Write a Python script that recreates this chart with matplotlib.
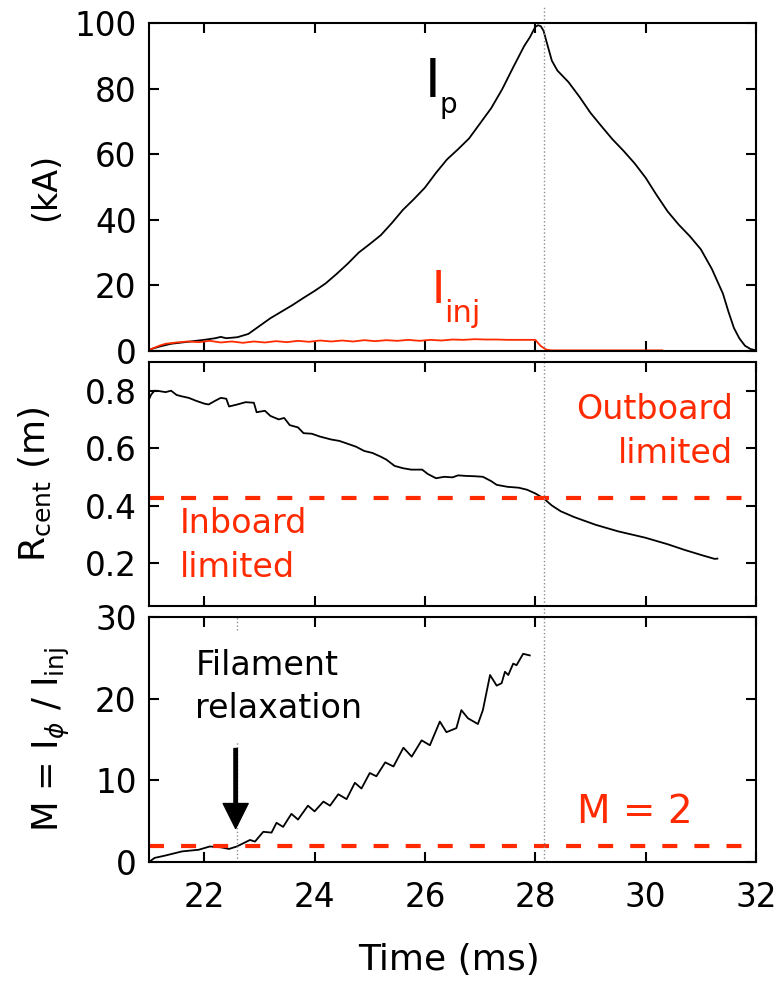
import matplotlib
matplotlib.use('Agg')
import matplotlib.pyplot as plt

RED = '#ff2a00'
GREY = '#8c8c8c'

# top panel: plasma current Ip and injector current Iinj (kA)
t_ip = [21.0, 21.2, 21.4, 21.6, 21.8, 22.0, 22.2, 22.3, 22.4, 22.6, 22.8, 23.0, 23.2, 23.4,
        23.6, 23.8, 24.0, 24.2, 24.4, 24.6, 24.8, 25.0, 25.2, 25.4, 25.6, 25.8, 26.0, 26.2,
        26.4, 26.6, 26.8, 27.0, 27.2, 27.4, 27.6, 27.8, 27.9, 28.0, 28.05, 28.1, 28.15, 28.2,
        28.3, 28.4, 28.6, 28.8, 29.0, 29.2, 29.4, 29.6, 29.8, 30.0, 30.2, 30.4, 30.6, 30.8,
        31.0, 31.2, 31.4, 31.5, 31.6, 31.7, 31.8, 31.9, 32.0]
ip = [0.4, 1.4, 2.2, 2.6, 3.0, 3.4, 3.9, 4.3, 3.9, 4.2, 5.2, 7.6, 10.0, 12.0,
      14.0, 16.2, 18.3, 20.6, 23.5, 26.6, 30.0, 32.6, 35.3, 39.0, 43.0, 46.3, 49.8, 54.3,
      58.4, 61.5, 64.8, 69.4, 74.0, 79.8, 86.5, 93.0, 95.6, 98.8, 99.3, 99.0, 97.6, 94.5,
      88.5, 85.5, 82.0, 77.5, 72.6, 68.5, 64.5, 61.0, 57.2, 52.8, 47.5, 42.5, 38.5, 35.0,
      31.0, 25.0, 17.5, 12.0, 7.0, 3.8, 1.6, 0.6, 0.2]

t_inj = [21.0, 21.1, 21.2, 21.3, 21.5, 21.7, 21.9, 22.1, 22.3, 22.5, 22.7, 22.9, 23.1, 23.3,
         23.5, 23.7, 23.9, 24.1, 24.3, 24.5, 24.7, 24.9, 25.1, 25.3, 25.5, 25.7, 25.9, 26.1,
         26.3, 26.5, 26.7, 26.9, 27.1, 27.3, 27.5, 27.7, 27.9, 28.0, 28.1, 28.2, 28.3, 29.0,
         29.5, 30.0, 30.3]
inj = [0.3, 1.0, 1.7, 2.2, 2.6, 2.9, 2.7, 3.1, 2.6, 2.9, 2.5, 2.9, 2.6, 3.0,
       2.7, 3.1, 2.8, 3.2, 2.9, 3.2, 2.9, 3.3, 3.0, 3.3, 3.1, 3.4, 3.1, 3.4,
       3.2, 3.5, 3.4, 3.6, 3.5, 3.5, 3.4, 3.4, 3.4, 3.4, 1.5, 0.4, 0.2, 0.2,
       0.2, 0.2, 0.2]

# middle panel: current centroid radius (m)
t_r = [21.0, 21.04, 21.1, 21.17, 21.3, 21.4, 21.5, 21.6, 21.72, 21.85, 22.0, 22.08, 22.2,
       22.3, 22.4, 22.45, 22.6, 22.75, 22.9, 22.95, 23.1, 23.2, 23.35, 23.45, 23.55, 23.7,
       23.8, 23.95, 24.1, 24.3, 24.45, 24.6, 24.75, 24.9, 25.05, 25.2, 25.3, 25.45, 25.6,
       25.75, 25.95, 26.05, 26.2, 26.35, 26.5, 26.6, 26.75, 26.9, 27.05, 27.2, 27.3, 27.5,
       27.7, 27.85, 28.0, 28.15, 28.3, 28.46, 28.7, 29.09, 29.5, 29.99, 30.4, 30.71, 31.0,
       31.25, 31.3]
r_cent = [0.77, 0.787, 0.80, 0.799, 0.795, 0.80, 0.785, 0.78, 0.775, 0.765, 0.755, 0.752, 0.765,
          0.775, 0.772, 0.745, 0.752, 0.76, 0.758, 0.725, 0.73, 0.712, 0.70, 0.705, 0.68, 0.672,
          0.652, 0.65, 0.64, 0.63, 0.625, 0.615, 0.605, 0.59, 0.583, 0.57, 0.56, 0.538, 0.53,
          0.525, 0.525, 0.51, 0.495, 0.50, 0.498, 0.505, 0.503, 0.502, 0.50, 0.485, 0.472, 0.465,
          0.462, 0.455, 0.442, 0.425, 0.40, 0.38, 0.36, 0.333, 0.31, 0.288, 0.265, 0.245, 0.228,
          0.214, 0.215]
r_limit = 0.425

# bottom panel: current multiplication M
t_m = [21.0, 21.1, 21.3, 21.6, 21.9, 22.1, 22.3, 22.45, 22.59, 22.83, 22.92, 23.07, 23.22,
       23.31, 23.43, 23.58, 23.70, 23.88, 24.0, 24.16, 24.28, 24.43, 24.58, 24.73, 24.85,
       25.0, 25.12, 25.28, 25.43, 25.61, 25.76, 25.94, 26.09, 26.27, 26.39, 26.57, 26.66,
       26.78, 26.96, 27.05, 27.18, 27.3, 27.39, 27.45, 27.51, 27.6, 27.66, 27.78, 27.9]
m = [0.0, 0.5, 0.8, 1.3, 1.5, 1.9, 1.8, 1.6, 1.9, 2.7, 2.5, 3.7, 3.6,
     4.8, 4.3, 5.9, 5.2, 6.9, 6.2, 7.4, 6.9, 8.3, 7.7, 9.7, 9.0,
     10.9, 10.5, 12.2, 11.7, 14.0, 12.9, 14.9, 14.3, 17.2, 15.9, 16.4, 18.6,
     17.6, 16.9, 18.6, 22.9, 21.6, 21.9, 23.3, 22.9, 24.3, 24.1, 25.5, 25.3]
m_limit = 2

t_peak = 28.15
t_relax = 22.6

plt.rcParams['font.family'] = 'DejaVu Sans'
fig = plt.figure(figsize=(7.77, 9.81), dpi=100)
ax1 = fig.add_axes([0.1918, 0.6422, 0.7812, 0.3344])
ax2 = fig.add_axes([0.1918, 0.3823, 0.7812, 0.2487])
ax3 = fig.add_axes([0.1918, 0.1213, 0.7812, 0.2497])

for ax in (ax1, ax2, ax3):
    ax.set_xlim(21, 32)
    ax.set_xticks([22, 24, 26, 28, 30, 32])
    ax.tick_params(direction='in', top=True, right=True, length=7, width=1.5,
                   labelsize=23.5, pad=9)
    ax.tick_params(axis='x', pad=14)
    for s in ax.spines.values():
        s.set_linewidth(1.5)
ax1.tick_params(labelbottom=False)
ax2.tick_params(labelbottom=False)

# top
ax1.plot(t_ip, ip, color='black', lw=1.3)
ax1.plot(t_inj, inj, color=RED, lw=1.3)
ax1.axvline(t_peak, ymin=-0.034, ymax=1.055, clip_on=False, color=GREY, lw=1, ls=':')
ax1.set_ylim(0, 100)
ax1.set_yticks([0, 20, 40, 60, 80, 100])
ax1.set_ylabel('(kA)', fontsize=24)
ax1.yaxis.set_label_coords(-0.143, 0.5)
ax1.text(26.0, 77.4, 'I', fontsize=38.5, va='baseline')
ax1.text(26.26, 72.6, 'p', fontsize=20, va='baseline')
ax1.text(26.13, 14.6, 'I', fontsize=32.5, va='baseline', color=RED)
ax1.text(26.35, 8.8, 'inj', fontsize=22, va='baseline', color=RED)

# middle
ax2.plot(t_r, r_cent, color='black', lw=1.3)
ax2.axhline(r_limit, color=RED, lw=3, ls=(0, (3.6, 4.1)))
ax2.axvline(t_peak, ymin=-0.047, ymax=1, clip_on=False, color=GREY, lw=1, ls=':')
ax2.set_ylim(0.05, 0.9)
ax2.set_yticks([0.2, 0.4, 0.6, 0.8])
ax2.set_ylabel(r'R$_{\rm cent}$ (m)', fontsize=26)
ax2.yaxis.set_label_coords(-0.158, 0.5)
ax2.text(31.58, 0.547, 'Outboard\nlimited', fontsize=24, color=RED, ha='right',
         va='baseline', linespacing=1.45)
ax2.text(21.56, 0.152, 'Inboard\nlimited', fontsize=24, color=RED, ha='left',
         va='baseline', linespacing=1.4)

# bottom
ax3.plot(t_m, m, color='black', lw=1.3)
ax3.axhline(m_limit, color=RED, lw=3, ls=(0, (3.6, 4.1)))
ax3.axvline(t_peak, color=GREY, lw=1, ls=':')
ax3.vlines([t_relax, t_relax], [0, 28.4], [14.7, 30], color=GREY, lw=1, ls=':')
ax3.set_ylim(0, 30)
ax3.set_yticks([0, 10, 20, 30])
ax3.set_ylabel(r'M = I$_\phi$ / I$_{\rm inj}$', fontsize=25.5)
ax3.yaxis.set_label_coords(-0.127, 0.5)
ax3.set_xlabel('Time (ms)', fontsize=26, va='center')
ax3.xaxis.set_label_coords(0.494, -0.40)
ax3.text(21.84, 17.6, 'Filament\nrelaxation', fontsize=24, color='black',
         va='baseline', linespacing=1.4)
ax3.annotate('', xy=(22.57, 4.1), xytext=(22.57, 13.9),
             arrowprops=dict(facecolor='black', edgecolor='black', width=2.5,
                             headwidth=18, headlength=18, shrink=0))
ax3.text(28.76, 4.8, 'M = 2', fontsize=28, color=RED, va='baseline')

fig.savefig('out.png', dpi=100)
